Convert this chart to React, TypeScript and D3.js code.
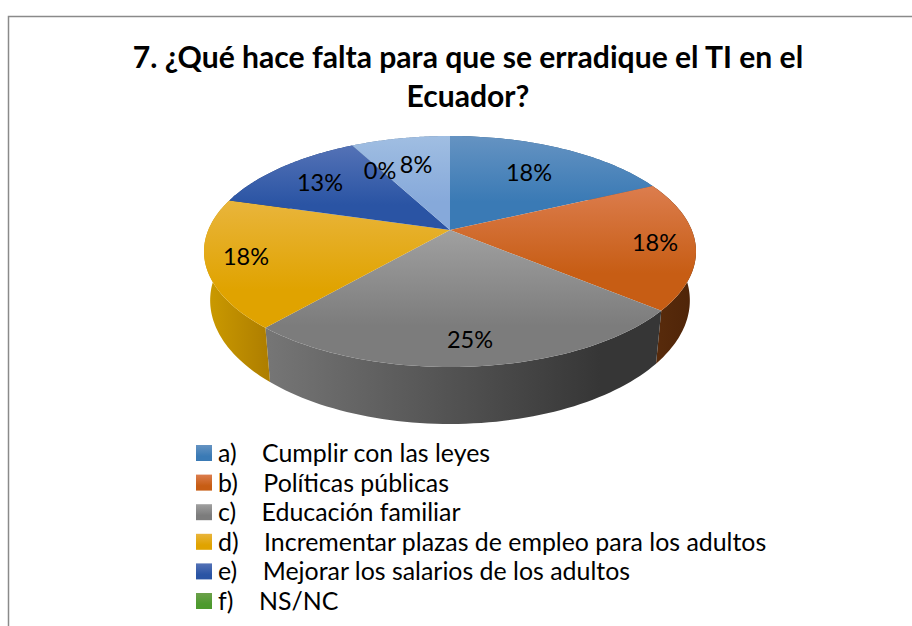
import React from "react";
import * as d3 from "d3";

const titleLines = ["7. ¿Qué hace falta para que se erradique el TI en el", "Ecuador?"];
const sliceKeys = ["a", "b", "c", "d", "e", "f", "g"];
const sliceValues = [18, 18, 25.4, 18.1, 12.7, 0, 7.8];
const legendLabels = [
  "a)    Cumplir con las leyes",
  "b)    Políticas públicas",
  "c)    Educación familiar",
  "d)    Incrementar plazas de empleo para los adultos",
  "e)    Mejorar los salarios de los adultos",
  "f)    NS/NC",
];
const faceTop = ["#6593c2", "#dc7d4e", "#a0a0a0", "#e9b53c", "#5472b6", "#6ca04a", "#a0bee2"];
const faceBottom = ["#3a7ab5", "#c75d14", "#7c7c7c", "#e0a300", "#2a54a4", "#4d9a2e", "#86a9da"];
const sideLeft = ["#2b5a85", "#5a2c0c", "#767676", "#cc9b00", "#1e3d78", "#38701f", "#64809f"];
const sideRight = ["#24507a", "#4e2408", "#363636", "#ae7e00", "#1e3d78", "#38701f", "#64809f"];
const labelAnchors = [[529, 172], [655, 242], [470, 339], [246, 256], [320, 182], [380, 170], [416, 164]];

const W = 912, H = 626;
const cx = 450, cy = 230, A = 241.7, B = 111.5, K = 0.186;
const FONT = "Lato, 'Noto Sans', sans-serif";

const project = (t: number, xs = 1, ys = 1, dy = 0): [number, number] => {
  const u = Math.sin(t), v = -Math.cos(t), w = 1 - K * v;
  return [cx + (xs * A * u) / w, cy + dy + (ys * B * v) / w];
};
const pct = (v: number) => `${Math.round(v)}%`;

export default function App() {
  const arcs = d3.pie<number>().sort(null)(sliceValues);
  const line = d3.line();
  const pts = (a: number, b: number, f: (t: number) => [number, number]) =>
    d3.range(0, 61).map((i) => f(a + ((b - a) * i) / 60));
  const top = (t: number) => project(t);
  const bottom = (t: number) => project(t, 0.975, 1.07, 47.4);
  return (
    <svg width={W} height={H} viewBox={`0 0 ${W} ${H}`} style={{ position: "absolute", left: 0, top: 0, display: "block" }}>
      <defs>
        {sliceKeys.map((k, i) => (
          <React.Fragment key={k}>
            <linearGradient id={`face-${k}`} x1="0" y1="0" x2="0" y2="1">
              <stop offset="0" stopColor={faceTop[i]} />
              <stop offset="0.7" stopColor={faceBottom[i]} />
              <stop offset="1" stopColor={faceBottom[i]} />
            </linearGradient>
            <linearGradient id={`side-${k}`} gradientUnits="userSpaceOnUse"
              x1={k === "d" ? 205 : k === "c" ? 265 : 650} x2={k === "d" ? 268 : k === "c" ? 600 : 696} y1="0" y2="0">
              <stop offset="0" stopColor={sideLeft[i]} />
              <stop offset="1" stopColor={sideRight[i]} />
            </linearGradient>
          </React.Fragment>
        ))}
      </defs>
      <rect width={W} height={H} fill="#fff" />
      <path d={`M8.5 ${H}V16.5H${W}`} fill="none" stroke="#8a8a8a" strokeWidth={1.5} />
      {titleLines.map((t, i) => (
        <text key={t} x={468} y={68 + i * 39} textAnchor="middle" fontFamily={FONT} fontWeight={700} fontSize={30.1} fill="#000">{t}</text>
      ))}
      {arcs.map((a, i) => (
        <path key={`s${i}`} fill={`url(#side-${sliceKeys[i]})`}
          d={(line([...pts(a.startAngle, a.endAngle, top), ...pts(a.endAngle, a.startAngle, bottom)]) ?? "") + "Z"} />
      ))}
      {arcs.map((a, i) => (
        <path key={`f${i}`} fill={`url(#face-${sliceKeys[i]})`}
          d={(line([[cx, cy], ...pts(a.startAngle, a.endAngle, top)]) ?? "") + "Z"} />
      ))}
      {sliceValues.map((v, i) => (
        <text key={`l${i}`} x={labelAnchors[i][0]} y={labelAnchors[i][1]} textAnchor="middle" dominantBaseline="central"
          fontFamily={FONT} fontSize={23.5} fill="#000">{pct(v)}</text>
      ))}
      {legendLabels.map((t, i) => (
        <g key={t} transform={`translate(196,${445 + i * 29.6})`}>
          <rect width={16} height={16} fill={`url(#face-${sliceKeys[i]})`} />
          <text x={22} y={17} fontFamily={FONT} fontSize={24.9} fill="#000" style={{ whiteSpace: "pre" }}>{t}</text>
        </g>
      ))}
    </svg>
  );
}
